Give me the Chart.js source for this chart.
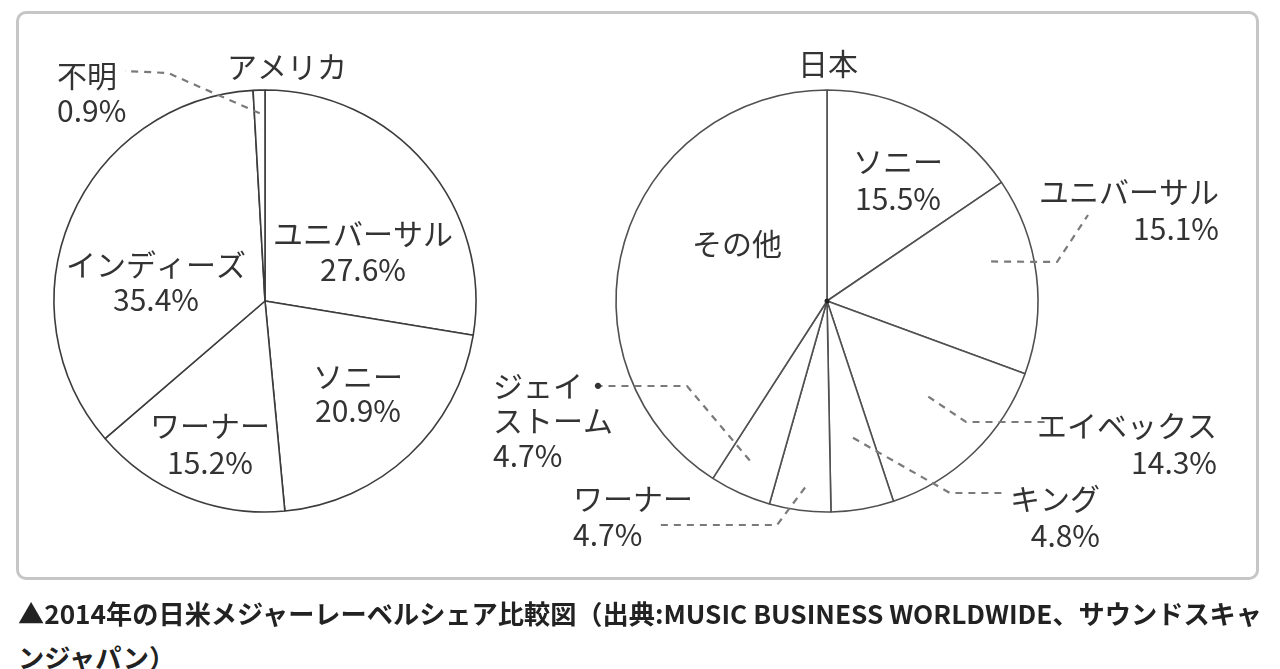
<!DOCTYPE html>
<html lang="ja">
<head>
<meta charset="utf-8">
<script src="https://cdn.jsdelivr.net/npm/chart.js@4.4.1/dist/chart.umd.min.js"></script>
<style>
  body{
    margin:0;
    width:1280px;
    height:669px;
    overflow:hidden;
    position:relative;
    background:#fff;
    font-family:"Noto Sans CJK JP", sans-serif;
  }
  #frame{
    position:absolute;
    left:16px;
    top:11px;
    width:1237px;
    height:563px;
    border:3px solid #c6c6c6;
    border-radius:10px;
  }
  canvas{
    position:absolute;
    left:0;
    top:0;
  }
  .cap{
    position:absolute;
    left:18px;
    white-space:nowrap;
    transform-origin:0 50%;
    font-weight:700;
    font-size:26px;
    line-height:30px;
    color:#222;
  }
</style>
</head>
<body>

<div id="frame"></div>
<canvas id="usChart" width="1280" height="590"></canvas>
<canvas id="jpChart" width="1280" height="590"></canvas>

<div class="cap" id="cap1" style="top:598px">▲2014年の日米メジャーレーベルシェア比較図（出典:MUSIC BUSINESS WORLDWIDE、サウンドスキャ</div>
<div class="cap" id="cap2" style="top:642px">ンジャパン）</div>

<script>

// =====================================
// DATA
// =====================================

const usTitle = "アメリカ";
const usLabels = ["ユニバーサル", "ソニー", "ワーナー", "インディーズ", "不明"];
const usShares = [27.6, 20.9, 15.2, 35.4, 0.9];

const jpTitle = "日本";
const jpLabels = ["ソニー", "ユニバーサル", "エイベックス", "キング", "ワーナー", "ジェイ・ストーム", "その他"];
const jpShares = [15.5, 15.1, 14.3, 4.8, 4.7, 4.7, 40.9];


// =====================================
// LABEL LAYOUT (offsets from pie centre)
// =====================================

const usLayout = [
  { x: 98, y: -67, align: "center", step: 36 },
  { x: 93, y: 76, align: "center", step: 34 },
  { x: -55, y: 125, align: "center", step: 37 },
  { x: -109, y: -36, align: "center", step: 35 },
  { x: -208, y: -225, align: "left", step: 35,
    leader: { t: .5, rf: .89, pts: [[-97, -228], [-140, -230]] } }
];

const jpLayout = [
  { x: 71, y: -139, align: "center", step: 37 },
  { x: 392, y: -109, align: "right", step: 37,
    leader: { t: .38, rf: .8, pts: [[230, -39], [261, -86]] } },
  { x: 390, y: 125, align: "right", step: 37,
    leader: { t: .45, rf: .66, pts: [[139, 121], [218, 121]] } },
  { x: 273, y: 198, align: "right", step: 37,
    leader: { t: .44, rf: .66, pts: [[123, 192], [178, 192]] } },
  { x: -254, y: 198, align: "left", step: 36,
    leader: { t: .46, rf: .89, pts: [[-50, 224], [-171, 224]] } },
  { x: -334, y: 85, align: "left", step: 35, wrap: ["ジェイ・", "ストーム"],
    leader: { t: .59, rf: .84, pts: [[-140, 85], [-232, 85]] } },
  { x: -90, y: -57, align: "center", step: 36, noValue: true }
];


// =====================================
// PLUGIN: labels + dashed leaders
// =====================================

const pieLabels = {

  id: "pieLabels",

  afterDatasetsDraw(chart, args, opts){

    const ctx = chart.ctx;
    const arcs = chart.getDatasetMeta(0).data;
    const values = chart.data.datasets[0].data;
    const names = chart.data.labels;

    if(!arcs.length){
      return;
    }

    const cx = arcs[0].x;
    const cy = arcs[0].y;

    ctx.save();

    // centre dot where the spokes meet
    if(opts.dot){
      ctx.fillStyle = "#222";
      ctx.beginPath();
      ctx.arc(cx, cy, 2.5, 0, Math.PI * 2);
      ctx.fill();
    }

    // leaders
    ctx.strokeStyle = "#7a7a7a";
    ctx.lineWidth = 2.2;
    ctx.setLineDash([7, 6]);

    opts.layout.forEach((lay, i) => {

      if(!lay.leader){
        return;
      }

      const arc = arcs[i];
      const a = arc.startAngle + lay.leader.t * (arc.endAngle - arc.startAngle);
      const r = arc.outerRadius * lay.leader.rf;

      ctx.beginPath();
      ctx.moveTo(cx + Math.cos(a) * r, cy + Math.sin(a) * r);

      lay.leader.pts.forEach(p => {
        ctx.lineTo(cx + p[0], cy + p[1]);
      });

      ctx.stroke();

    });

    ctx.setLineDash([]);

    // texts
    ctx.fillStyle = "#333";
    ctx.font = "30px 'Noto Sans CJK JP', sans-serif";
    ctx.textBaseline = "middle";

    opts.layout.forEach((lay, i) => {

      const lines = lay.wrap ? lay.wrap.slice() : [names[i]];

      if(!lay.noValue){
        lines.push(values[i].toFixed(1) + "%");
      }

      ctx.textAlign = lay.align;

      lines.forEach((txt, k) => {
        ctx.fillText(txt, cx + lay.x, cy + lay.y + k * lay.step);
      });

    });

    // title
    ctx.textAlign = "center";
    ctx.fillText(opts.title, cx + opts.titlePos[0], cy + opts.titlePos[1]);

    ctx.restore();

  }

};


// =====================================
// CHARTS
// =====================================

function makePie(id, labels, values, layout, title, titlePos, padding, lineColor, dot){

  return new Chart(document.getElementById(id), {

    type: "pie",

    data: {
      labels,
      datasets: [{
        data: values,
        backgroundColor: "#fff",
        borderColor: lineColor,
        borderWidth: 1.6
      }]
    },

    options: {
      responsive: false,
      animation: false,
      events: [],
      radius: 211,
      layout: { padding },
      plugins: {
        legend: { display: false },
        tooltip: { enabled: false },
        pieLabels: { layout, title, titlePos, dot }
      }
    },

    plugins: [pieLabels]

  });

}

makePie(
  "usChart", usLabels, usShares, usLayout,
  usTitle, [22, -234],
  { left: 0, right: 750, top: 12, bottom: 0 },
  "#3c3c3c", false
);

makePie(
  "jpChart", jpLabels, jpShares, jpLayout,
  jpTitle, [1, -237],
  { left: 374, right: 0, top: 12, bottom: 0 },
  "#505050", true
);


// =====================================
// CAPTION: squeeze to the original width
// =====================================

const cap1 = document.getElementById("cap1");
const cap2 = document.getElementById("cap2");
const sx = 1244 / cap1.getBoundingClientRect().width;

cap1.style.transform = `scaleX(${sx})`;
cap2.style.transform = `scaleX(${sx})`;

</script>
</body>
</html>
